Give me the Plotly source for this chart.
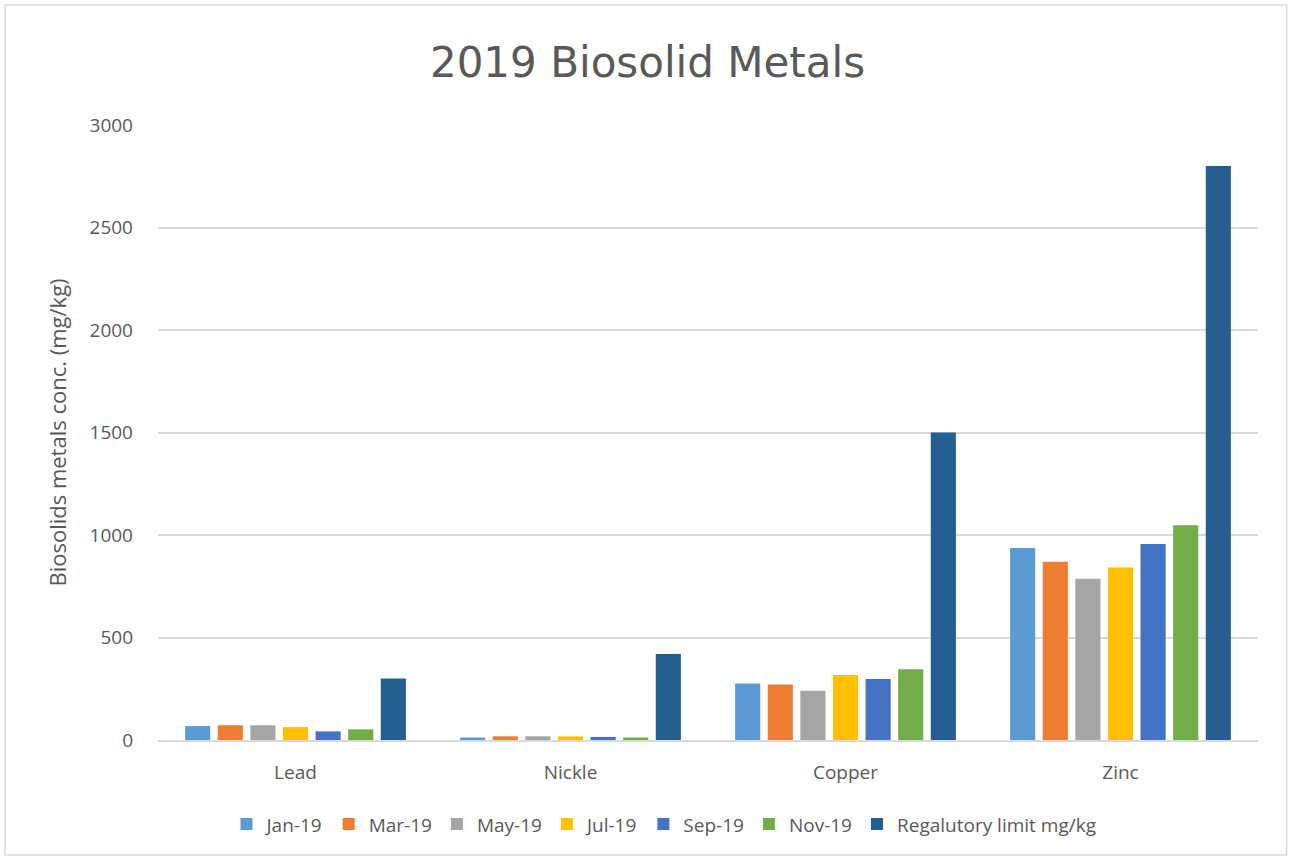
import plotly.graph_objects as go

categories = ["Lead", "Nickle", "Copper", "Zinc"]
series_names = ["Jan-19", "Mar-19", "May-19", "Jul-19", "Sep-19", "Nov-19", "Regalutory limit mg/kg"]
jan19 = [68, 12, 276, 936]
mar19 = [72, 18, 271, 869]
may19 = [72, 18, 240, 787]
jul19 = [63, 18, 317, 842]
sep19 = [42, 15, 298, 956]
nov19 = [52, 12, 345, 1048]
limit = [300, 420, 1500, 2800]
y_ticks = [0, 500, 1000, 1500, 2000, 2500, 3000]

colors = ["#5B9BD5", "#ED7D31", "#A5A5A5", "#FFC000", "#4472C4", "#70AD47", "#255E91"]
values = [jan19, mar19, may19, jul19, sep19, nov19, limit]

fig = go.Figure()
for name, vals, c in zip(series_names, values, colors):
    fig.add_trace(go.Bar(x=categories, y=vals, name=name, marker=dict(color=c, line=dict(width=0))))

font_main = "Open Sans, Liberation Sans, sans-serif"
fig.update_layout(
    width=1295, height=860,
    margin=dict(l=158, r=37, t=125, b=120),
    paper_bgcolor="white", plot_bgcolor="white",
    barmode="group", bargap=0.17, bargroupgap=0.23,
    title=dict(text="2019 Biosolid Metals", x=0.5, xanchor="center", y=0.928, yanchor="middle",
               font=dict(family="DejaVu Sans, sans-serif", size=42, color="#595959")),
    font=dict(family=font_main, size=18, color="#595959"),
    legend=dict(orientation="h", x=0.46, xanchor="center", y=-0.137, yanchor="middle",
                font=dict(size=19, color="#595959"), itemwidth=30, traceorder="normal"),
    xaxis=dict(showline=True, linecolor="#D9D9D9", linewidth=2, ticks="", showgrid=False,
               ticklabelstandoff=14, tickfont=dict(size=19, color="#595959")),
    yaxis=dict(range=[0, 3000], tickvals=y_ticks, showgrid=True, gridcolor="#D9D9D9", gridwidth=1.5,
               zeroline=False, showline=False, ticks="", ticklabelstandoff=24,
               tickfont=dict(size=19, color="#595959"),
               title=dict(text="Biosolids metals conc. (mg/kg)", font=dict(size=22, color="#595959"), standoff=16)),
    shapes=[dict(type="rect", xref="paper", yref="paper", x0=-0.139, x1=1.026, y0=-0.187, y1=1.195,
                 line=dict(color="#D9D9D9", width=1.5), fillcolor="rgba(0,0,0,0)", layer="below")],
)
fig.write_html("out.html")
